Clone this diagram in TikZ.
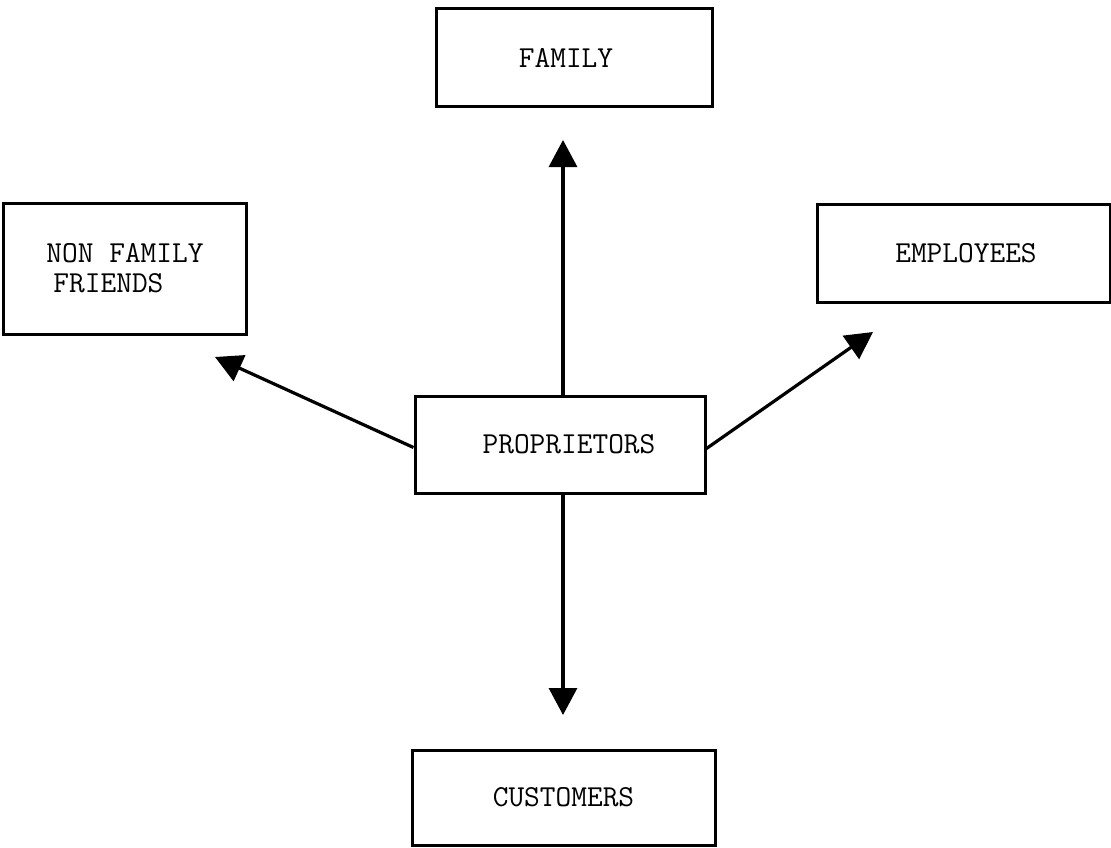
\documentclass[tikz,border=0pt]{standalone}
\usetikzlibrary{arrows.meta}
\begin{document}
\begin{tikzpicture}[x=1pt,y=-1pt,
  box/.style={draw=black, line width=3pt, rectangle, inner sep=0pt,
    font=\ttfamily\fontsize{30.5}{30}\selectfont, text=black},
  arr/.style={line width=3.2pt, -{Triangle[length=27pt,width=28pt]}}]
\useasboundingbox[fill=white] (0,0) rectangle (1111,848);
\node[box, minimum width=276pt, minimum height=98pt] (fam) at (574,58) {\hspace*{-16pt}FAMILY};
\node[box, minimum width=243pt, minimum height=131pt, align=left] (nff) at (125,268.5) {NON FAMILY\\\hspace*{7pt}FRIENDS};
\node[box, minimum width=293pt, minimum height=98pt] (emp) at (963.5,253) {\hspace*{5pt}EMPLOYEES};
\node[box, minimum width=290pt, minimum height=97pt] (prop) at (560,444.5) {\hspace*{18pt}PROPRIETORS};
\node[box, minimum width=303pt, minimum height=95pt] (cus) at (563.5,797.5) {CUSTOMERS};
\coordinate (uptip) at (563,140);
\coordinate (downtip) at (563,715);
\coordinate (lefttip) at (215,357);
\coordinate (righttip) at (873,332);
\draw[arr] (prop.north -| uptip) -- (uptip);
\draw[arr] (prop.south -| downtip) -- (downtip);
\draw[arr] ([yshift=-3pt]prop.west) -- (lefttip);
\draw[arr] ([yshift=-4pt]prop.east) -- (righttip);
\end{tikzpicture}
\end{document}
